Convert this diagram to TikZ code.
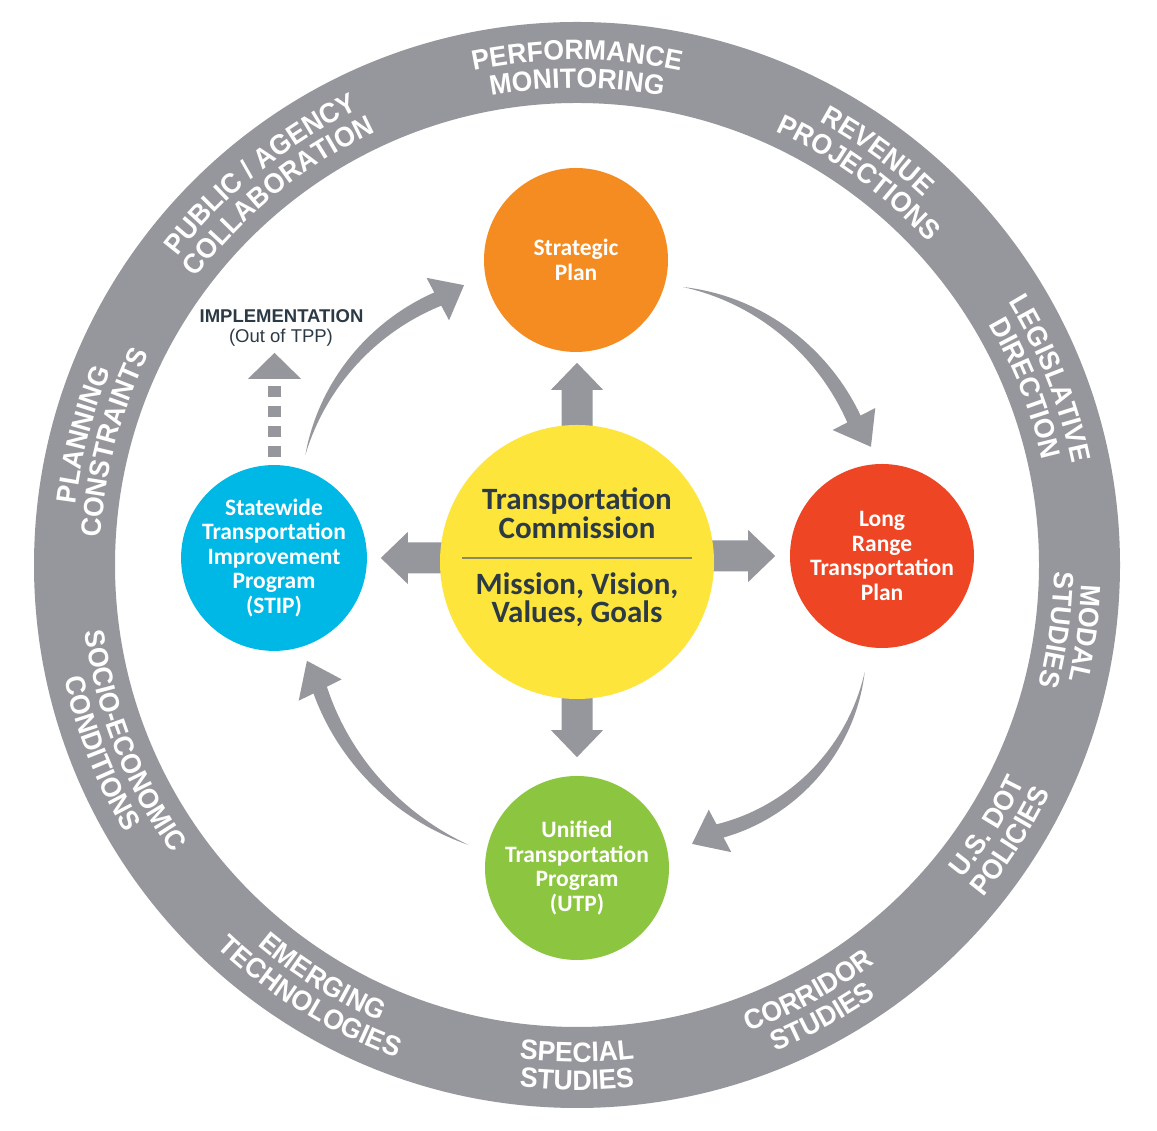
\documentclass[tikz,border=0pt]{standalone}
\usepackage{fontspec}
\usetikzlibrary{calc,decorations.text}
\pgfdeclarelayer{bg}
\pgfsetlayers{bg,main}
\newfontfamily\circfont{Carlito}
\newfontfamily\ringfont{Liberation Sans}[FakeStretch=0.95]
\newfontfamily\implfont{Liberation Sans}
\definecolor{ringgray}{HTML}{96979C}
\definecolor{sporange}{HTML}{F58C21}
\definecolor{tcyellow}{HTML}{FDE53C}
\definecolor{stipcyan}{HTML}{00B8E5}
\definecolor{lrtpred}{HTML}{EE4524}
\definecolor{utpgreen}{HTML}{8CC640}
\definecolor{darktext}{HTML}{2C3A46}
\definecolor{sepline}{HTML}{8C8A62}
\newcommand\ringtxt{\ringfont\bfseries\fontsize{28}{30}\selectfont}
\newcommand\toplab[3]{%
 \path[decorate,decoration={text along path,text align=center,text color=white,text={|\ringtxt|#2}}]
   ($(rc)+({#1+60}:505)$) arc[start angle={#1+60},end angle={#1-60},radius=505];
 \path[decorate,decoration={text along path,text align=center,text color=white,text={|\ringtxt|#3}}]
   ($(rc)+({#1+60}:477)$) arc[start angle={#1+60},end angle={#1-60},radius=477];}
\newcommand\botlab[3]{%
 \path[decorate,decoration={text along path,text align=center,text color=white,text={|\ringtxt|#2}}]
   ($(rc)+({#1-60}:497)$) arc[start angle={#1-60},end angle={#1+60},radius=497];
 \path[decorate,decoration={text along path,text align=center,text color=white,text={|\ringtxt|#3}}]
   ($(rc)+({#1-60}:525)$) arc[start angle={#1-60},end angle={#1+60},radius=525];}
% curved tapered arrow around (tc): th0 r0 th1 r1 bulge thtip rtip
\newcommand\curvarr[7]{%
 \begin{scope}[shift={(tc.center)}]
 \fill[garr] plot[domain=0:1,samples=40,variable=\t]
   ({#1+((#3)-(#1))*\t}:{#2+((#4)-(#2))*\t+4*(#5)*\t*(1-\t)+7.5*\t*(1.6-0.6*\t)})
   -- ({#3}:{#4+24}) -- ({#6}:{#7}) -- ({#3}:{#4-24})
   -- plot[domain=1:0,samples=40,variable=\t]
   ({#1+((#3)-(#1))*\t}:{#2+((#4)-(#2))*\t+4*(#5)*\t*(1-\t)-7.5*\t*(1.6-0.6*\t)}) -- cycle;
 \end{scope}}
% straight block arrow: start, angle, length
\newcommand\blockarr[3]{%
 \begin{scope}[shift={#1},rotate=#2]
 \fill[garr] (0,-15.5) -- ({#3-27},-15.5) -- ({#3-27},-26) -- (#3,0) -- ({#3-27},26) -- ({#3-27},15.5) -- (0,15.5) -- cycle;
 \end{scope}}
\begin{document}
\begin{tikzpicture}[x=1pt,y=1pt,
  garr/.style={fill=ringgray},
  circ/.style={circle,minimum size=184pt,inner sep=0pt,text=white,align=center,
    font=\circfont\bfseries\fontsize{23.5}{24.5}\selectfont},
  ytext/.style={inner sep=0pt,text=darktext,font=\circfont\bfseries\fontsize{31}{29}\selectfont},
  impl/.style={inner sep=0pt,text=darktext,font=\implfont\fontsize{18.5}{20}\selectfont}]
\useasboundingbox (0,0) rectangle (1157,1131);
\begin{pgfonlayer}{bg}
\fill[white] (0,0) rectangle (1157,1131);
\end{pgfonlayer}
\coordinate (rc) at (577,566);
% outer ring
\draw[ringgray,line width=81pt] (rc) circle[radius=502.5];
\toplab{90}{PERFORMANCE}{MONITORING}
\toplab{54}{REVENUE}{PROJECTIONS}
\toplab{21.5}{LEGISLATIVE}{DIRECTION}
\toplab{-7.7}{MODAL}{STUDIES}
\botlab{-32.5}{U.S. DOT}{POLICIES}
\botlab{-61.5}{CORRIDOR}{STUDIES}
\botlab{-90}{SPECIAL}{STUDIES}
\botlab{-121.7}{EMERGING}{TECHNOLOGIES}
\botlab{-158.4}{SOCIO-ECONOMIC}{CONDITIONS}
\toplab{165.2}{PLANNING}{CONSTRAINTS}
\toplab{129}{PUBLIC / AGENCY}{COLLABORATION}
% circles
\node[circ,fill=tcyellow,minimum size=274pt] (tc) at (577,569) {};
\node[circ,fill=sporange] (sp) at (576,871) {Strategic\\Plan};
\node[circ,fill=stipcyan] (stip) at (274,573) {Statewide\\Transportation\\Improvement\\Program\\(STIP)};
\node[circ,fill=lrtpred] (lrtp) at (882,575) {Long\\Range\\Transportation\\Plan};
\node[circ,fill=utpgreen] (utp) at (577,263) {Unified\\Transportation\\Program\\(UTP)};
% centre texts
\node[ytext,anchor=base] (tc1) at ($(tc.center)+(0,52)$) {Transportation};
\node[ytext,anchor=base] (tc2) at ($(tc.center)+(0,23)$) {Commission};
\draw[sepline,line width=1.2pt] ($(tc.center)+(-115,4)$) -- ($(tc.center)+(115,4)$);
\node[ytext,anchor=base] (tc3) at ($(tc.center)+(0,-33)$) {Mission, Vision,};
\node[ytext,anchor=base] (tc4) at ($(tc.center)+(0,-61)$) {Values, Goals};
% implementation
\node[impl,anchor=base] (impl) at (281.5,808) {\bfseries IMPLEMENTATION};
\node[impl,anchor=base] (outtpp) at (281,788) {(Out of TPP)};
\begin{pgfonlayer}{bg}
\blockarr{($(tc.north)+(0,-4)$)}{90}{66}
\blockarr{($(tc.south)+(0,4)$)}{-90}{62}
\blockarr{($(tc.west |- stip.center)+(4,0)$)}{180}{63}
\blockarr{($(tc.east |- lrtp.center)+(-4,0)$)}{0}{65}
\curvarr{68.9}{294.7}{27.3}{311.7}{7}{21.4}{315.7}
\curvarr{-20.9}{308}{-62}{304.6}{12}{-67.8}{304.5}
\curvarr{-111}{303}{-153.5}{287}{3}{-159.9}{287.6}
\curvarr{158.5}{292}{117.9}{297.5}{6}{112.2}{299}
% dashed implementation arrow
\draw[ringgray,line width=13pt,dash pattern=on 11pt off 9pt] ($(stip.north)+(0.5,8)$) -- ($(stip.north)+(0.5,80)$);
\fill[garr] ($(stip.north)+(-26,86)$) -- ($(stip.north)+(0.5,112)$) -- ($(stip.north)+(27,86)$) -- cycle;
\end{pgfonlayer}
\end{tikzpicture}
\end{document}
